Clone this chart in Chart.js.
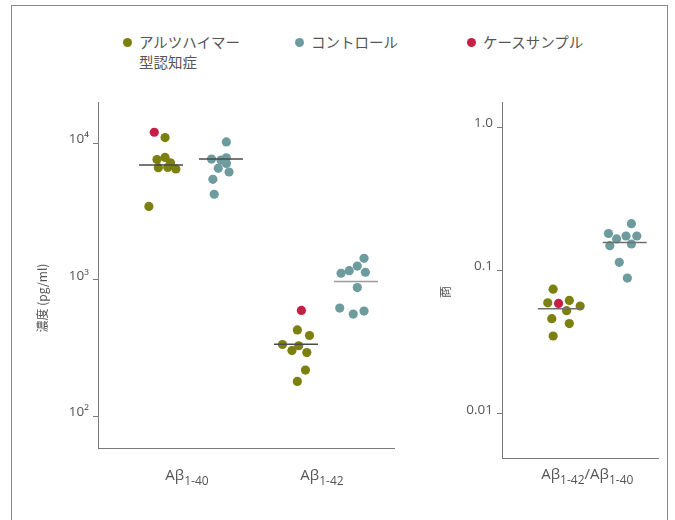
<!DOCTYPE html>
<html lang="ja">
<head>
  <meta charset="UTF-8">
  <title>Aβ1-40 / Aβ1-42</title>
  <script src="https://cdn.jsdelivr.net/npm/chart.js"></script>
  <style>
    html, body { margin: 0; overflow: hidden; background: #fff; }
    #frame { position: absolute; left: 11px; top: 5px; width: 655px; height: 560px; border: 1px solid #8a8a8a; }
    canvas { position: absolute; top: 90px; }
    #concChart { left: 0; }
    #ratioChart { left: 440px; }
    .legend-item { position: absolute; top: 32px; font: 14.5px "Noto Sans CJK JP", sans-serif; color: #555; line-height: 20px; white-space: pre; }
    .dot { position: absolute; left: -16.5px; top: 5.5px; width: 9px; height: 9px; border-radius: 50%; }
  </style>
</head>
<body>
  <div id="frame"></div>
  <div id="legend"></div>
  <canvas id="concChart" width="440" height="410"></canvas>
  <canvas id="ratioChart" width="227" height="410"></canvas>

  <script>
    // --- data ---
    var categoryLabels = [['Aβ', '1-40'], ['Aβ', '1-42']];
    var ratioLabel = ['Aβ', '1-42', '/Aβ', '1-40'];
    var legendLabels = ['アルツハイマー\n型認知症', 'コントロール', 'ケースサンプル'];
    var concTitle = '濃度 (pg/ml)';
    var ratioTitle = '商';

    var concTicks = [100, 1000, 10000];
    var concTickLabels = ['10²', '10³', '10⁴'];
    var ratioTicks = [0.01, 0.1, 1];
    var ratioTickLabels = ['0.01', '0.1', '1.0'];

    // concentration, pg/ml
    var alz40 = [11060, 7640, 7910, 7230, 6660, 6680, 6520, 3460];
    var ctrl40 = [10290, 7700, 7570, 7870, 7150, 6580, 6190, 5470, 4250];
    var case40 = [12110];
    var alz42 = [430, 391, 336, 329, 303, 293, 218, 180];
    var ctrl42 = [1439, 1264, 1169, 1119, 1138, 879, 622, 591, 562];
    var case42 = [597];
    var alzMedian = [6960, 338];
    var ctrlMedian = [7700, 972];

    // ratio Aβ1-42 / Aβ1-40
    var alzRatio = [0.0740, 0.0595, 0.0618, 0.0565, 0.0524, 0.0461, 0.0426, 0.0349];
    var ctrlRatio = [0.212, 0.181, 0.174, 0.174, 0.166, 0.149, 0.153, 0.114, 0.0885];
    var caseRatio = [0.0589];
    var ratioMedian = [0.0541, 0.157];

    // sideways scatter of the dots (beeswarm), in category widths
    var alz40Spread = [0.03, -0.03, 0.03, 0.07, -0.02, 0.05, 0.11, -0.09];
    var ctrl40Spread = [0.04, -0.07, 0, 0.04, 0.04, -0.02, 0.06, -0.06, -0.05];
    var case40Spread = [-0.05];
    var alz42Spread = [0.01, 0.1, -0.1, 0.02, -0.03, 0.08, 0.07, 0.01];
    var ctrl42Spread = [0.06, 0.01, -0.05, -0.11, 0.07, 0.01, -0.12, 0.06, -0.02];
    var case42Spread = [0.04];
    var alzRatioSpread = [-0.05, -0.09, 0.07, 0.15, 0.05, -0.06, 0.07, -0.05];
    var ctrlRatioSpread = [0.05, -0.12, 0.01, 0.09, -0.06, -0.11, 0.05, -0.04, 0.02];
    var caseRatioSpread = [-0.01];

    // --- styling ---
    var OLIVE = '#7b800f';
    var TEAL = '#6e9b9e';
    var RED = '#c51f45';
    var AXIS = '#7a7a7a';
    var TEXT = '#555555';
    var LATIN = '"Open Sans", "Noto Sans CJK JP", sans-serif';
    var CJK = '"Noto Sans CJK JP", sans-serif';

    // legend
    var legendColors = [OLIVE, TEAL, RED];
    var legendLeft = [139, 311, 483];
    legendLabels.forEach(function(label, i) {
      var item = document.createElement('div');
      item.className = 'legend-item';
      item.style.left = legendLeft[i] + 'px';
      item.textContent = label;
      var dot = document.createElement('span');
      dot.className = 'dot';
      dot.style.background = legendColors[i];
      item.appendChild(dot);
      document.getElementById('legend').appendChild(item);
    });

    function points(values, spread, center) {
      return values.map(function(v, i) {
        return { x: center + spread[i], y: v };
      });
    }

    function scatterSet(data, color, order) {
      return {
        type: 'scatter',
        data: data,
        backgroundColor: color,
        borderWidth: 0,
        pointRadius: 4.6,
        pointHoverRadius: 4.6,
        order: order
      };
    }

    function medianSet(center, value, color) {
      return {
        type: 'line',
        data: [{ x: center - 0.163, y: value }, { x: center + 0.163, y: value }],
        borderColor: color,
        borderWidth: 1.5,
        pointRadius: 0,
        fill: false,
        order: 0
      };
    }

    // label with subscripts: parts alternate normal / subscript
    function drawParts(ctx, parts, cx, y) {
      var widths = [], total = 0;
      parts.forEach(function(p, i) {
        ctx.font = (i % 2 ? '12px ' : '15px ') + LATIN;
        widths.push(ctx.measureText(p).width);
        total += widths[i];
      });
      var x = cx - total / 2;
      parts.forEach(function(p, i) {
        ctx.font = (i % 2 ? '12px ' : '15px ') + LATIN;
        ctx.fillText(p, x, y + (i % 2 ? 4.5 : 0));
        x += widths[i];
      });
    }

    var panelText = {
      id: 'panelText',
      afterDraw: function(chart, args, opts) {
        var ctx = chart.ctx, area = chart.chartArea, xs = chart.scales.x;
        ctx.save();
        ctx.fillStyle = TEXT;
        ctx.textAlign = 'left';
        ctx.textBaseline = 'alphabetic';
        opts.labels.forEach(function(parts, i) {
          drawParts(ctx, parts, xs.getPixelForValue(opts.positions[i]) + opts.labelShift, area.bottom + opts.labelDy);
        });
        ctx.translate(area.left + opts.titleDx, (area.top + area.bottom) / 2 + opts.titleDy);
        ctx.rotate(-Math.PI / 2);
        ctx.textAlign = 'center';
        ctx.textBaseline = 'middle';
        ctx.font = '12px ' + CJK;
        ctx.fillText(opts.title, 0, 0);
        ctx.restore();
      }
    };

    function yAxis(min, max, tickValues, tickLabels, width) {
      return {
        type: 'logarithmic',
        min: min,
        max: max,
        afterBuildTicks: function(scale) {
          scale.ticks = tickValues.map(function(v) { return { value: v }; });
        },
        afterFit: function(scale) { scale.width = width; },
        ticks: {
          callback: function(value, index) { return tickLabels[index]; },
          color: TEXT,
          font: { family: LATIN, size: 13.5 },
          padding: 4,
          labelOffset: -4
        },
        grid: { drawOnChartArea: false, drawTicks: true, tickLength: 5, color: AXIS },
        border: { display: true, color: AXIS, width: 1 }
      };
    }

    function xAxis(min, max, height) {
      return {
        type: 'linear',
        min: min,
        max: max,
        ticks: { display: false },
        grid: { display: false },
        border: { display: true, color: AXIS, width: 1 },
        afterFit: function(scale) { scale.height = height; }
      };
    }

    var baseOptions = {
      responsive: false,
      animation: false,
      plugins: { legend: { display: false }, tooltip: { enabled: false } }
    };

    // left panel: concentrations
    var catPos = [1, 2];
    var SUB = 0.222;
    new Chart(document.getElementById('concChart'), {
      data: {
        datasets: [
          medianSet(catPos[0] - SUB, alzMedian[0], '#4a4a4a'),
          medianSet(catPos[0] + SUB, ctrlMedian[0], '#4a4a4a'),
          medianSet(catPos[1] - SUB, alzMedian[1], '#4a4a4a'),
          medianSet(catPos[1] + SUB, ctrlMedian[1], '#9a9a9a'),
          scatterSet(points(case40, case40Spread, catPos[0] - SUB)
            .concat(points(case42, case42Spread, catPos[1] - SUB)), RED, 1),
          scatterSet(points(alz40, alz40Spread, catPos[0] - SUB)
            .concat(points(alz42, alz42Spread, catPos[1] - SUB)), OLIVE, 2),
          scatterSet(points(ctrl40, ctrl40Spread, catPos[0] + SUB)
            .concat(points(ctrl42, ctrl42Spread, catPos[1] + SUB)), TEAL, 2)
        ]
      },
      options: Object.assign({}, baseOptions, {
        layout: { padding: { top: 10, right: 46, bottom: 0, left: 0 } },
        scales: {
          x: xAxis(0.311, 2.504, 52),
          y: yAxis(58.5, 20150, concTicks, concTickLabels, 98)
        },
        plugins: Object.assign({}, baseOptions.plugins, {
          panelText: {
            labels: categoryLabels, positions: catPos, labelShift: -4, labelDy: 32,
            title: concTitle, titleDx: -56, titleDy: 23
          }
        })
      }),
      plugins: [panelText]
    });

    // right panel: ratio
    var RSUB = 0.24;
    new Chart(document.getElementById('ratioChart'), {
      data: {
        datasets: [
          medianSet(1 - RSUB, ratioMedian[0], '#6f6f6f'),
          medianSet(1 + RSUB, ratioMedian[1], '#6f6f6f'),
          scatterSet(points(caseRatio, caseRatioSpread, 1 - RSUB), RED, 1),
          scatterSet(points(alzRatio, alzRatioSpread, 1 - RSUB), OLIVE, 2),
          scatterSet(points(ctrlRatio, ctrlRatioSpread, 1 + RSUB), TEAL, 2)
        ]
      },
      options: Object.assign({}, baseOptions, {
        layout: { padding: { top: 8, right: 9, bottom: 0, left: 0 } },
        scales: {
          x: xAxis(0.331, 1.487, 42),
          y: yAxis(0.00492, 1.494, ratioTicks, ratioTickLabels, 62)
        },
        plugins: Object.assign({}, baseOptions.plugins, {
          panelText: {
            labels: [ratioLabel], positions: [1], labelShift: -5, labelDy: 21,
            title: ratioTitle, titleDx: -57, titleDy: 12
          }
        })
      }),
      plugins: [panelText]
    });
  </script>
</body>
</html>
